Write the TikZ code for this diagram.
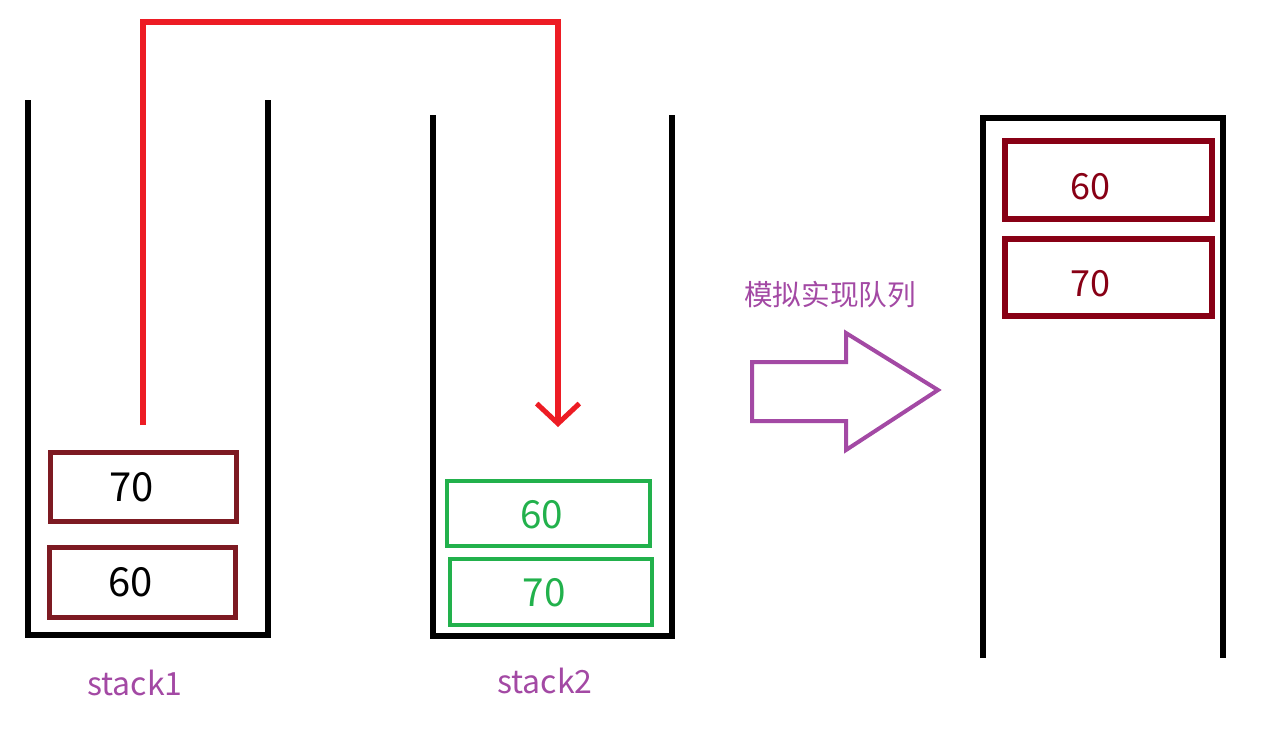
\documentclass[tikz,border=0pt]{standalone}
\usepackage{fontspec}
\setmainfont{Noto Sans CJK SC}
\usetikzlibrary{arrows.meta}
\definecolor{wine}{HTML}{7D1A22}
\definecolor{qred}{HTML}{880015}
\definecolor{grn}{HTML}{22B14C}
\definecolor{purp}{HTML}{A349A4}
\definecolor{red1}{HTML}{ED1C24}
\tikzset{
  wall/.style={line width=4.5pt, line join=miter},
  s1box/.style={draw=wine, line width=3.6pt, minimum width=139.5pt, minimum height=52pt, inner sep=0pt, font=\fontsize{30}{32}\selectfont, text=black},
  s2box/.style={draw=grn, line width=3pt, minimum width=152pt, minimum height=49pt, inner sep=0pt, font=\fontsize{29}{31}\selectfont, text=grn, text height=22pt, text depth=0pt},
  qbox/.style={draw=qred, line width=4.5pt, minimum width=155pt, minimum height=58pt, inner sep=0pt, font=\fontsize{27}{29}\selectfont, text=qred, text height=29pt, text depth=0pt},
  lbl/.style={text=purp, font=\fontsize{24}{26}\selectfont},
  move/.style={draw=red1, line width=3.8pt, line join=miter, -{Straight Barb[length=15pt,width=32pt]}},
  bigarrow/.style={draw=purp, line width=3pt, line join=miter}
}
\begin{document}
\begin{tikzpicture}[x=0.75pt,y=-0.75pt]
\useasboundingbox (0,0) rectangle (1279,729);
% stack 1
\draw[wall] (28,100) -- (28,635) -- (268,635) -- (268,100);
\node[s1box] (a70) at (143.5,487) {\hspace*{-18pt}70};
\node[s1box] (a60) at (142.5,582.5) {\hspace*{-18pt}60};
\node[lbl] (l1) at (135,683) {stack1};
% stack 2
\draw[wall] (433,115) -- (433,636) -- (672,636) -- (672,115);
\node[s2box] (b60) at (548.5,513.5) {\hspace*{-10pt}60};
\node[s2box] (b70) at (551,592) {\hspace*{-10pt}70};
\node[lbl] (l2) at (545,681) {stack2};
% transfer connector
\coordinate (from) at (143,425);
\coordinate (to) at (558,427);
\draw[move] (from) -- (143,22) -- (558,22) -- (to);
% big arrow and caption
\node[text=purp, font=\fontsize{21.5}{23}\selectfont] (cap) at (830,295) {模拟实现队列};
\draw[bigarrow] (752,362) -- (846,362) -- (846,333) -- (938,390) -- (846,450) -- (846,421) -- (752,421) -- cycle;
% queue
\draw[wall] (983,658) -- (983,118) -- (1223,118) -- (1223,658);
\node[qbox] (q60) at (1108.5,180) {\hspace*{-27pt}60};
\node[qbox] (q70) at (1108.5,277.5) {\hspace*{-27pt}70};
\end{tikzpicture}
\end{document}
